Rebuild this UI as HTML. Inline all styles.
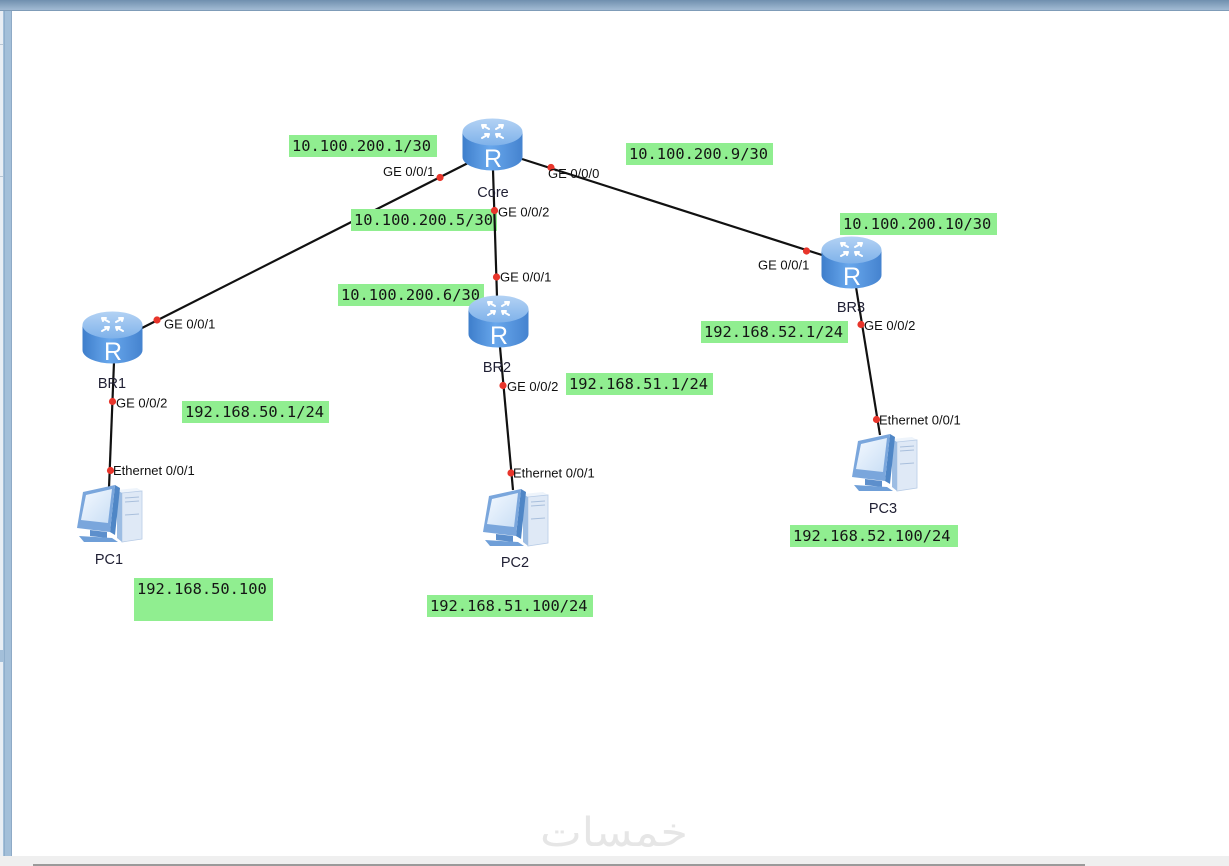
<!DOCTYPE html>
<html><head><meta charset="utf-8"><style>
html,body{margin:0;padding:0;background:#fff;}
body{width:1229px;height:866px;overflow:hidden;position:relative;}
svg{position:absolute;left:0;top:0;}
.lbl{position:absolute;background:#90ee90;font-family:"DejaVu Sans Mono","Liberation Mono",monospace;font-size:15.4px;color:#151515;height:22px;line-height:22px;padding-left:3px;box-sizing:border-box;white-space:nowrap;}
</style></head><body>
<svg width="1229" height="866" viewBox="0 0 1229 866">
<defs>
<linearGradient id="topbar" x1="0" y1="0" x2="0" y2="1"><stop offset="0" stop-color="#6f8fae"/><stop offset="1" stop-color="#a6bfd7"/></linearGradient>
<linearGradient id="rbody" x1="0" y1="0" x2="1" y2="0"><stop offset="0" stop-color="#3e7ecb"/><stop offset="0.45" stop-color="#68a7ec"/><stop offset="1" stop-color="#4583cf"/></linearGradient>
<linearGradient id="rtop" x1="0" y1="0" x2="0" y2="1"><stop offset="0" stop-color="#b3d2f4"/><stop offset="1" stop-color="#7fb2ea"/></linearGradient>
<linearGradient id="scr" x1="0" y1="0" x2="1" y2="1"><stop offset="0" stop-color="#f4f9ff"/><stop offset="1" stop-color="#c9def5"/></linearGradient>
<g id="router">
 <path d="M0.5,14 V39 A30,13.5 0 0 0 60.5,39 V14 Z" fill="url(#rbody)"/>
 <ellipse cx="30.5" cy="14" rx="30" ry="13.5" fill="url(#rtop)"/>
 <g stroke="#fff" stroke-width="2" fill="none" stroke-linecap="round">
  <path d="M27,11 L20,7 M20,7 L24,7 M20,7 L21,10"/>
  <path d="M34,11 L41,7 M41,7 L37,7 M41,7 L40,10"/>
  <path d="M20,20 L27,16 M27,16 L23,16 M27,16 L26,19"/>
  <path d="M41,20 L34,16 M34,16 L38,16 M34,16 L35,19"/>
 </g>
 <text x="31" y="49" font-family="Liberation Sans, sans-serif" font-size="25" fill="#fff" text-anchor="middle">R</text>
</g>
<g id="pc">
 <polygon points="41,5 61,3 66,6 46,8" fill="#eef4fb"/>
 <polygon points="46,8 66,6 66,54 46,57" fill="#dfe9f6" stroke="#b8cce6" stroke-width="0.8"/>
 <polygon points="41,5 46,8 46,57 41,53" fill="#9dbde3"/>
 <g stroke="#a9bfdc" stroke-width="1"><line x1="49" y1="13" x2="63" y2="12"/><line x1="49" y1="17" x2="63" y2="16"/><line x1="49" y1="30" x2="63" y2="29"/></g>
 <polygon points="14,45 31,47 31,53 14,51" fill="#5d8fcc"/>
 <polygon points="3,51 36,53 42,57 8,57" fill="#6f9fd8"/>
 <polygon points="39,0 44,3 39,50 34,47" fill="#4f86c6"/>
 <polygon points="7,7 39,0 34,47 1,43" fill="#7aa6dc"/>
 <polygon points="10,10 36,4 32,38 5,35" fill="url(#scr)"/>
</g>
</defs>

<!-- frame -->
<rect x="0" y="0" width="1229" height="11" fill="url(#topbar)"/>
<rect x="0" y="10" width="1229" height="1" fill="#7f9cb8"/>
<rect x="0" y="11" width="3" height="845" fill="#e9eef4"/>
<rect x="0" y="44" width="3" height="1" fill="#b8c6d4"/>
<rect x="0" y="176" width="3" height="1" fill="#b8c6d4"/>
<rect x="0" y="650" width="3" height="12" fill="#a3bfd9"/>
<rect x="3" y="11" width="9" height="845" fill="#a3bfd9"/>
<rect x="4" y="11" width="1" height="845" fill="#8faecb"/>
<rect x="11" y="11" width="1" height="845" fill="#8eaac6"/>
<rect x="0" y="856" width="1229" height="10" fill="#efefef"/>
<rect x="33" y="864" width="1052" height="2" fill="#9a9a9a"/>

<!-- watermark -->
<text x="540" y="846" font-family="DejaVu Sans, sans-serif" font-size="40" fill="#e6e6e6" textLength="148" lengthAdjust="spacingAndGlyphs">خمسات</text>

<!-- links -->
<g stroke="#111" stroke-width="2.2" fill="none">
 <line x1="470" y1="162" x2="140" y2="329"/>
 <line x1="522" y1="159" x2="822" y2="255"/>
 <line x1="114" y1="362" x2="109" y2="488"/>
 <line x1="500" y1="347" x2="513" y2="490"/>
 <line x1="856" y1="287" x2="880" y2="435"/>
</g>
</svg>

<div class="lbl" style="left:289px;top:135px;width:148px;">10.100.200.1/30</div>
<div class="lbl" style="left:351px;top:209px;width:146px;">10.100.200.5/30</div>
<div class="lbl" style="left:338px;top:284px;width:146px;">10.100.200.6/30</div>
<div class="lbl" style="left:626px;top:143px;width:147px;">10.100.200.9/30</div>
<div class="lbl" style="left:840px;top:213px;width:157px;">10.100.200.10/30</div>
<div class="lbl" style="left:701px;top:321px;width:147px;">192.168.52.1/24</div>
<div class="lbl" style="left:790px;top:525px;width:168px;">192.168.52.100/24</div>
<div class="lbl" style="left:566px;top:373px;width:147px;">192.168.51.1/24</div>
<div class="lbl" style="left:427px;top:595px;width:166px;">192.168.51.100/24</div>
<div class="lbl" style="left:182px;top:401px;width:147px;">192.168.50.1/24</div>
<div class="lbl" style="left:134px;top:578px;width:139px;height:43px;line-height:22px;padding-top:0;">192.168.50.100</div>

<svg width="1229" height="866" viewBox="0 0 1229 866">
<line x1="493" y1="170" x2="497" y2="297" stroke="#111" stroke-width="2.2"/>
<use href="#router" x="462" y="118"/>
<use href="#router" x="82" y="311"/>
<use href="#router" x="468" y="295"/>
<use href="#router" x="821" y="236"/>
<use href="#pc" x="76" y="485"/>
<use href="#pc" x="482" y="489"/>
<use href="#pc" x="851" y="434"/>

<g fill="#e8352b">
 <circle cx="440" cy="177.5" r="3.6"/>
 <circle cx="551" cy="167.5" r="3.6"/>
 <circle cx="494.5" cy="210.5" r="3.6"/>
 <circle cx="496.5" cy="277" r="3.6"/>
 <circle cx="157" cy="320" r="3.6"/>
 <circle cx="112.5" cy="401.5" r="3.6"/>
 <circle cx="110.5" cy="470.5" r="3.6"/>
 <circle cx="503" cy="385.5" r="3.6"/>
 <circle cx="511" cy="473" r="3.6"/>
 <circle cx="806.5" cy="251" r="3.6"/>
 <circle cx="861" cy="324.5" r="3.6"/>
 <circle cx="876.5" cy="419.5" r="3.6"/>
</g>

<g font-family="Liberation Sans, sans-serif" font-size="13" fill="#111">
 <text x="383" y="176">GE 0/0/1</text>
 <text x="548" y="178">GE 0/0/0</text>
 <text x="498" y="216.5">GE 0/0/2</text>
 <text x="500" y="281.5">GE 0/0/1</text>
 <text x="164" y="328.5">GE 0/0/1</text>
 <text x="116" y="407.5">GE 0/0/2</text>
 <text x="113" y="475">Ethernet 0/0/1</text>
 <text x="507" y="391">GE 0/0/2</text>
 <text x="513" y="477.5">Ethernet 0/0/1</text>
 <text x="758" y="269.5">GE 0/0/1</text>
 <text x="864" y="330">GE 0/0/2</text>
 <text x="879" y="424.5">Ethernet 0/0/1</text>
</g>

<g font-family="Liberation Sans, sans-serif" font-size="14.5" fill="#1f1f33" text-anchor="middle">
 <text x="493" y="197">Core</text>
 <text x="112" y="388">BR1</text>
 <text x="497" y="372">BR2</text>
 <text x="851" y="312">BR3</text>
 <text x="109" y="564">PC1</text>
 <text x="515" y="567">PC2</text>
 <text x="883" y="513">PC3</text>
</g>
</svg>
</body></html>
